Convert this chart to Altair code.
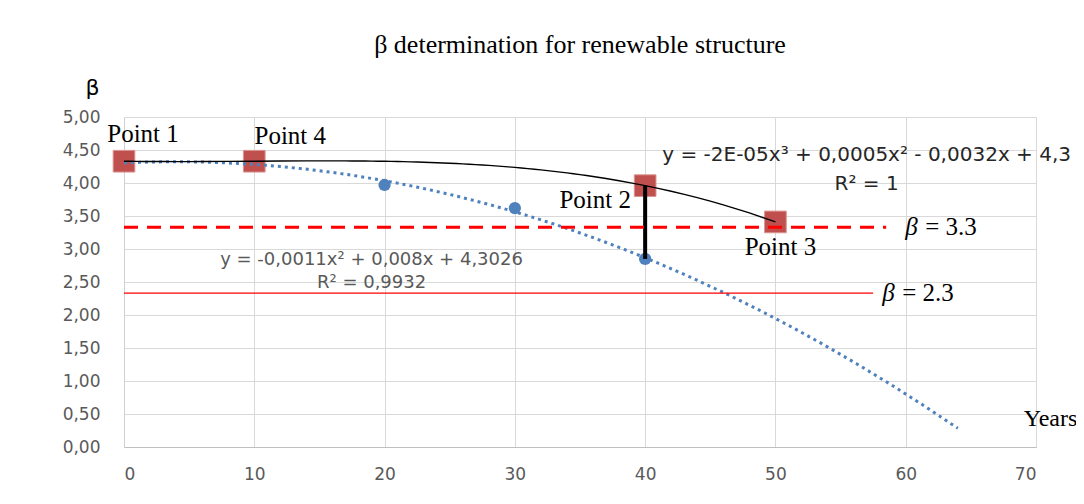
import altair as alt
import pandas as pd

# ---- data ----
years_obs = [0, 10, 20, 30, 40]
beta_obs = [4.30, 4.31, 3.97, 3.62, 2.85]

years_pts = [0, 10, 40, 50]
beta_pts = [4.33, 4.33, 3.96, 3.41]
pt_labels = ["Point 1", "Point 4", "Point 2", "Point 3"]

limit_values = [3.33, 2.33]
limit_ends = [58.5, 57.5]
limit_labels = ["= 3.3", "= 2.3"]
limit_keys = ["dashed", "solid"]

eq_texts = ["y = -2E-05x\u00b3 + 0,0005x\u00b2 - 0,0032x + 4,3", "R\u00b2 = 1",
            "y = -0,0011x\u00b2 + 0,008x + 4,3026", "R\u00b2 = 0,9932"]
eq_x = [57.0, 57.0, 19.0, 19.0]
eq_y = [4.42, 3.98, 2.83, 2.48]
eq_group = ["cubic", "cubic", "quad", "quad"]

x_ticks = [0, 10, 20, 30, 40, 50, 60, 70]
y_ticks = [0, 0.5, 1, 1.5, 2, 2.5, 3, 3.5, 4, 4.5, 5]
forecast_end = 64
title_text = "\u03b2 determination for renewable structure"

# ---- tables (all use the same field names so the axes are shared) ----
df_obs = pd.DataFrame({"year": years_obs, "beta": beta_obs})
df_pts = pd.DataFrame({"year": years_pts, "beta": beta_pts, "label": pt_labels})
df_lim = pd.DataFrame({"year": [0, 0], "year_end": limit_ends, "beta": limit_values,
                       "label": limit_labels, "key": limit_keys})
df_lim_end = pd.DataFrame({"year": limit_ends, "beta": limit_values,
                           "label": limit_labels, "key": limit_keys})
df_eq = pd.DataFrame({"year": eq_x, "beta": eq_y, "text": eq_texts, "g": eq_group})
df_gap = pd.DataFrame({"year": [years_pts[2]], "beta": [beta_pts[2]], "beta_end": [beta_obs[4]]})

SERIF = "Liberation Serif"
SANS = "DejaVu Sans"

xscale = alt.Scale(domain=[0, 70], nice=False, zero=False)
yscale = alt.Scale(domain=[0, 5], nice=False)

xaxis = alt.Axis(values=x_ticks, tickCount=len(x_ticks) + 5, title="Years", grid=True,
                 gridColor="#d9d9d9", domainColor="#bfbfbf", ticks=False, labelPadding=19,
                 labelFont=SANS, labelFontSize=17, labelColor="#595959",
                 labelOverlap=False,
                 titleFont=SERIF, titleFontSize=24, titleFontWeight="normal",
                 titleColor="black", titleX=926, titleY=-29,
                 titleAlign="center", titleBaseline="middle")
yaxis = alt.Axis(values=y_ticks, tickCount=len(y_ticks) + 5, title="\u03b2", grid=True,
                 gridColor="#d9d9d9", domainColor="#d0d0d0", ticks=False, labelPadding=24,
                 labelFont=SANS, labelFontSize=17, labelColor="#595959",
                 labelOverlap=False,
                 labelExpr="replace(format(datum.value, '.2f'), '.', ',')",
                 titleFont=SANS, titleFontSize=22, titleFontWeight="normal",
                 titleColor="black", titleAngle=0, titleX=-32, titleY=-30,
                 titleAlign="center", titleBaseline="middle")

X = alt.X("year:Q", scale=xscale, axis=xaxis)
Y = alt.Y("beta:Q", scale=yscale, axis=yaxis)

base_obs = alt.Chart(df_obs)

blue_pts = base_obs.mark_circle(size=150, color="#4F81BD", opacity=1).encode(x=X, y=Y)

red_sq = alt.Chart(df_pts).mark_point(shape="square", filled=True, size=470,
                                      color="#C0504D", stroke="#D99694",
                                      strokeWidth=1, opacity=1).encode(x=X, y=Y)

quad_trend = base_obs.transform_regression(
    "year", "beta", method="poly", order=2, extent=[0, forecast_end]
).mark_line(color="#4F81BD", strokeWidth=3, strokeDash=[3, 4]).encode(x=X, y=Y)

cubic_trend = alt.Chart(df_pts).transform_regression(
    "year", "beta", method="poly", order=3, extent=[years_pts[0], years_pts[-1]]
).mark_line(color="black", strokeWidth=1.4).encode(x=X, y=Y)

gap_rule = alt.Chart(df_gap).mark_rule(color="black", strokeWidth=4).encode(
    x=X, y=Y, y2="beta_end:Q")

lim = alt.Chart(df_lim)
dash_rule = lim.transform_filter(alt.datum.key == "dashed").mark_rule(
    color="#FF0000", strokeWidth=3, strokeDash=[14, 9]).encode(x=X, x2="year_end:Q", y=Y)
solid_rule = lim.transform_filter(alt.datum.key == "solid").mark_rule(
    color="#FF0000", strokeWidth=1.3).encode(x=X, x2="year_end:Q", y=Y)

lim_offsets = {"dashed": 19, "solid": 9}
lim_texts = []
for key in limit_keys:
    sub = alt.Chart(df_lim_end).transform_filter(alt.datum.key == key)
    lim_texts.append(sub.mark_text(font=SERIF, fontSize=25, fontStyle="italic",
                                   align="left", baseline="middle", dx=lim_offsets[key],
                                   color="black", text="\u03b2").encode(x=X, y=Y))
    lim_texts.append(sub.mark_text(font=SERIF, fontSize=25, align="left",
                                   baseline="middle", dx=lim_offsets[key] + 20,
                                   color="black").encode(x=X, y=Y, text="label:N"))

offsets = {"Point 1": (19, -27), "Point 4": (36, -25), "Point 2": (-50, 14), "Point 3": (5, 25)}
pt_texts = [
    alt.Chart(df_pts).transform_filter(alt.datum.label == lab).mark_text(
        font=SERIF, fontSize=25, color="black", align="center", baseline="middle",
        dx=offsets[lab][0], dy=offsets[lab][1]).encode(x=X, y=Y, text="label:N")
    for lab in pt_labels
]

eq_cubic = alt.Chart(df_eq).transform_filter(alt.datum.g == "cubic").mark_text(
    font=SANS, fontSize=20, color="#262626", align="center", baseline="middle").encode(
    x=X, y=Y, text="text:N")
eq_quad = alt.Chart(df_eq).transform_filter(alt.datum.g == "quad").mark_text(
    font=SANS, fontSize=18, color="#595959", align="center", baseline="middle").encode(
    x=X, y=Y, text="text:N")

chart = alt.layer(
    blue_pts, red_sq, quad_trend, cubic_trend, gap_rule, dash_rule, solid_rule,
    *lim_texts, *pt_texts, eq_cubic, eq_quad
).properties(
    width=912, height=330,
    title=alt.Title(title_text, font=SERIF, fontSize=26, fontWeight="normal",
                    color="black", anchor="middle", frame="group", offset=18),
    autosize=alt.AutoSizeParams(type="none"),
    padding={"left": 116, "top": 109, "right": 40, "bottom": 47},
).configure_view(stroke=None).configure(background="white")

chart.save("out.html", embed_options={"renderer": "svg", "actions": False})
